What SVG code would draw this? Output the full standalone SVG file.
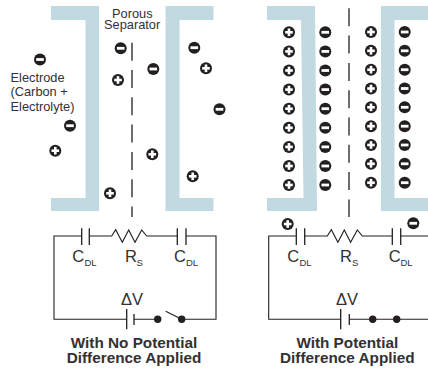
<svg xmlns="http://www.w3.org/2000/svg" width="428" height="368" viewBox="0 0 428 368">
<style>
text{font-family:"Liberation Sans",Arial,sans-serif;fill:#333132}
.lab{font-size:12.800px}
.c{font-size:16.500px}
.sub{font-size:9.500px}
.title{font-size:15.300px;font-weight:bold;text-anchor:middle}
.el{fill:#c1d9e1}
.w{fill:none;stroke:#231f20;stroke-width:1.100}
.p{fill:none;stroke:#231f20;stroke-width:1.300}
.sep{fill:none;stroke:#231f20;stroke-width:1.300;stroke-dasharray:18 9.300}
.dot{fill:#231f20}
</style>
<defs>
<g id="neg"><circle r="6" fill="#231f20"/><rect x="-3.800" y="-1.400" width="7.600" height="2.800" fill="#fff"/></g>
<g id="pos"><circle r="6" fill="#231f20"/><rect x="-3.800" y="-1.300" width="7.600" height="2.600" fill="#fff"/><rect x="-1.300" y="-3.800" width="2.600" height="7.600" fill="#fff"/></g>
</defs>
<g id="electrodes">
<path id="electrode-a-left" class="el" d="M51 6H99V211H51V198H85.500V20H51Z"/>
<path id="electrode-a-right" class="el" d="M213.500 6H165.500V211H213.500V198H179.500V20H213.500Z"/>
<path id="electrode-b-left" class="el" d="M267 6H315L317 211H267V198H303.500L301 20H267Z"/>
<path id="electrode-b-right" class="el" d="M428 6H381V211H428V198H394.500V20H428Z"/>
</g>
<g id="separators">
<path class="sep" d="M132 42.700V217"/>
<path class="sep" d="M349 8.300V217"/>
</g>
<g id="labels">
<text class="lab"><tspan x="112" y="17.700">Porous</tspan><tspan x="104" y="29">Separator</tspan></text>
<text class="lab" x="10.500" y="81.700">Electrode</text>
<text class="lab" x="10.500" y="96.300">(Carbon +</text>
<text class="lab" x="10.500" y="110.700">Electrolyte)</text>
</g>
<g id="ions-a">
<use href="#neg" x="120.700" y="48.300"/><use href="#neg" x="153.300" y="69"/><use href="#neg" x="40" y="59.500"/><use href="#neg" x="70" y="125.700"/><use href="#neg" x="194.300" y="47.700"/><use href="#neg" x="219.500" y="109.300"/>
<use href="#pos" x="118" y="80"/><use href="#pos" x="206" y="68.300"/><use href="#pos" x="55.300" y="150.700"/><use href="#pos" x="152.300" y="154.300"/><use href="#pos" x="192.700" y="176.300"/><use href="#pos" x="110" y="193.300"/>
</g>
<g id="ions-b">
<use href="#pos" x="289" y="32.300"/><use href="#pos" x="289" y="51.400"/><use href="#pos" x="289" y="70.500"/><use href="#pos" x="289" y="89.600"/><use href="#pos" x="289" y="108.700"/><use href="#pos" x="289" y="127.800"/><use href="#pos" x="289" y="146.900"/><use href="#pos" x="289" y="166"/><use href="#pos" x="289" y="185"/>
<use href="#neg" x="325.300" y="32.300"/><use href="#neg" x="325.300" y="51.400"/><use href="#neg" x="325.300" y="70.500"/><use href="#neg" x="325.300" y="89.600"/><use href="#neg" x="325.300" y="108.700"/><use href="#neg" x="325.300" y="127.800"/><use href="#neg" x="325.300" y="146.900"/><use href="#neg" x="325.300" y="166"/><use href="#neg" x="325.300" y="185"/>
<use href="#pos" x="371" y="32"/><use href="#pos" x="371" y="50.800"/><use href="#pos" x="371" y="69.700"/><use href="#pos" x="371" y="88.500"/><use href="#pos" x="371" y="107.300"/><use href="#pos" x="371" y="126.200"/><use href="#pos" x="371" y="145"/><use href="#pos" x="371" y="163.800"/><use href="#pos" x="371" y="182.700"/>
<use href="#neg" x="404.700" y="32"/><use href="#neg" x="404.700" y="50.800"/><use href="#neg" x="404.700" y="69.700"/><use href="#neg" x="404.700" y="88.500"/><use href="#neg" x="404.700" y="107.300"/><use href="#neg" x="404.700" y="126.200"/><use href="#neg" x="404.700" y="145"/><use href="#neg" x="404.700" y="163.800"/><use href="#neg" x="404.700" y="182.700"/>
<use href="#pos" x="287.700" y="224"/><use href="#neg" x="413.300" y="223.300"/>
</g>
<g id="circuit-a">
<path class="w" d="M81.700 236H54V319.300H126.700M134 319.300H157.700M181.700 319.300H216V236H186M177.300 236H146.700L141.700 230L135 242.300L128.700 230L122.300 242.300L115.700 229.700L111.700 236H89.300"/>
<path class="p" d="M81.700 228.300V245M89.300 228.300V245M177.300 228.300V245M186 228.300V245M126.700 309V329.300M134 314V325"/>
<path class="w" d="M165.700 311.300L181.700 319.300"/>
<circle class="dot" cx="157.700" cy="319.300" r="3.700"/><circle class="dot" cx="181.700" cy="319.300" r="3.700"/>
<text class="c" x="72.300" y="261.700">C</text><text class="sub" x="84.500" y="266">DL</text>
<text class="c" x="125" y="261.700">R</text><text class="sub" x="136.500" y="266">S</text>
<text class="c" x="174" y="261.700">C</text><text class="sub" x="186" y="266">DL</text>
<text class="c" x="121" y="305">ΔV</text>
<text class="title" x="134" y="347.700">With No Potential</text>
<text class="title" x="134" y="363">Difference Applied</text>
</g>
<g id="circuit-b">
<path class="w" d="M296.300 236H268.700V319.300H340.700M349.300 319.300H428M428 236H400.700M392.300 236H362.300L357.300 230L350.600 242.300L344.300 230L337.900 242.300L331.300 229.700L327.300 236H304.700"/>
<path class="p" d="M296.300 228.300V245M304.700 228.300V245M392.300 228.300V245M400.700 228.300V245M340.700 309V329.300M349.300 314V325"/>
<circle class="dot" cx="372.700" cy="319.300" r="3.700"/><circle class="dot" cx="396.700" cy="319.300" r="3.700"/>
<text class="c" x="287.300" y="261.700">C</text><text class="sub" x="299.500" y="266">DL</text>
<text class="c" x="340" y="261.700">R</text><text class="sub" x="352" y="266">S</text>
<text class="c" x="388.700" y="261.700">C</text><text class="sub" x="400.500" y="266">DL</text>
<text class="c" x="336" y="305">ΔV</text>
<text class="title" x="347.300" y="347.700">With Potential</text>
<text class="title" x="347.300" y="363">Difference Applied</text>
</g>
</svg>
